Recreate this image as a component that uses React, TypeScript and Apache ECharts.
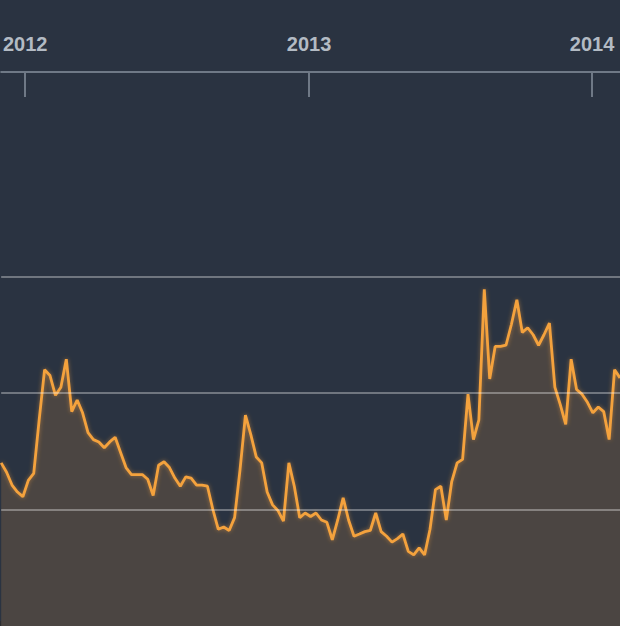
import React, { useEffect, useRef } from "react";
import * as echarts from "echarts";

// Weekly observations starting 2011-12-01
const startDate = [2011, 11, 1];
const values = [
  14.0, 13.2, 12.1, 11.5, 11.1, 12.5, 13.1, 17.7, 22.0, 21.5,
  19.8, 20.5, 22.9, 18.4, 19.4, 18.3, 16.6, 16.0, 15.8, 15.3,
  15.8, 16.2, 14.9, 13.6, 13.0, 13.0, 13.0, 12.6, 11.2, 13.8,
  14.1, 13.6, 12.7, 12.0, 12.8, 12.7, 12.1, 12.1, 12.0, 10.0,
  8.3, 8.5, 8.2, 9.3, 13.4, 18.1, 16.4, 14.5, 14.0, 11.5,
  10.4, 9.9, 9.0, 14.0, 12.0, 9.3, 9.7, 9.4, 9.7, 9.1,
  8.9, 7.4, 9.1, 11.0, 9.1, 7.7, 7.9, 8.1, 8.2, 9.7,
  8.1, 7.7, 7.2, 7.5, 7.9, 6.4, 6.1, 6.7, 6.1, 8.3,
  11.7, 12.0, 9.1, 12.4, 14.0, 14.3, 19.9, 16.0, 17.7, 28.9,
  21.2, 24.0, 24.0, 24.1, 25.9, 28.0, 25.2, 25.6, 25.0, 24.1,
  25.0, 26.0, 20.5, 19.0, 17.3, 22.9, 20.3, 19.9, 19.2, 18.3,
  18.8, 18.4, 16.0, 22.0, 21.3,
];
const dates = values.map((_, i) =>
  new Date(startDate[0], startDate[1], startDate[2] + 7 * i).getTime()
);
const yearTicks = [2012, 2013, 2014].map((y) => new Date(y, 0, 1).getTime());
const gridValues = [10, 20, 30];

export default function App() {
  const ref = useRef<HTMLDivElement>(null);
  useEffect(() => {
    if (!ref.current) return;
    const chart = echarts.init(ref.current, undefined, { renderer: "svg" });
    chart.setOption({
      animation: false,
      backgroundColor: "#2a3341",
      grid: { left: -1, right: -1, top: 160, bottom: 0 },
      xAxis: {
        type: "value",
        min: dates[0],
        max: dates[dates.length - 1],
        position: "top",
        offset: 88,
        axisLine: {
          show: true,
          onZero: false,
          lineStyle: { color: "#6f7986", width: 2 },
        },
        axisTick: {
          show: true,
          inside: true,
          length: 25,
          customValues: yearTicks,
          lineStyle: { color: "#6f7986", width: 2 },
        },
        axisLabel: {
          customValues: yearTicks,
          formatter: (v: number) => String(new Date(v).getFullYear()),
          color: "#b3bbc4",
          fontSize: 20,
          fontWeight: "bold",
          fontFamily: "Liberation Sans, Arial, sans-serif",
          margin: 18,
        },
        splitLine: { show: false },
      },
      yAxis: {
        type: "value",
        min: 0,
        max: 40,
        show: false,
        splitLine: { show: false },
      },
      series: [
        {
          type: "line",
          data: dates.map((d, i) => [d, values[i]]),
          symbol: "none",
          lineStyle: {
            color: "#f4a23e",
            width: 2.8,
            shadowColor: "rgba(245,160,60,0.5)",
            shadowBlur: 4,
          },
          areaStyle: { color: "#4b4542", opacity: 1 },
          markLine: {
            silent: true,
            symbol: "none",
            label: { show: false },
            lineStyle: { color: "rgba(255,255,255,0.33)", width: 2, type: "solid" },
            data: gridValues.map((v) => ({ yAxis: v })),
          },
        },
      ],
      graphic: [
        {
          type: "rect",
          left: 0,
          bottom: 0,
          shape: { width: 620, height: 5 },
          style: { fill: "#2c2d31" },
        },
      ],
    });
    return () => chart.dispose();
  }, []);
  return (
    <div
      ref={ref}
      style={{ position: "fixed", left: 0, top: 0, width: 620, height: 626 }}
    />
  );
}
